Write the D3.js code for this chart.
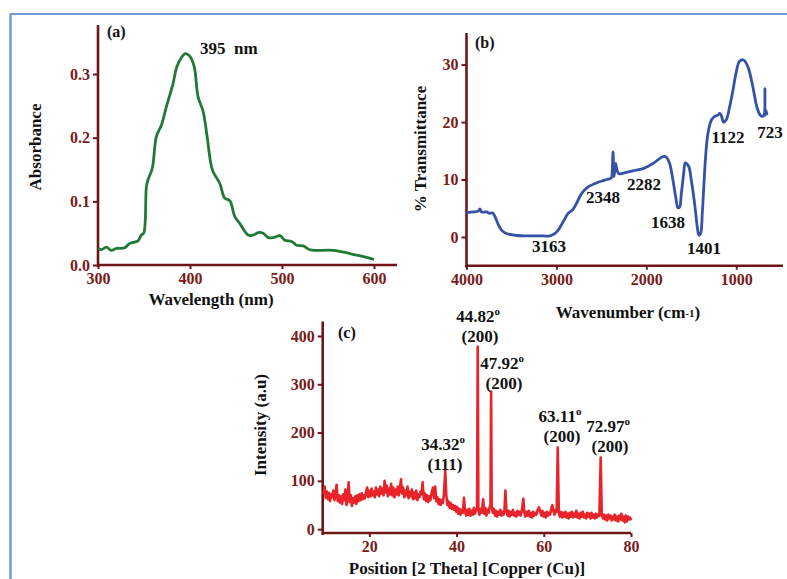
<!DOCTYPE html>
<html><head><meta charset="utf-8">
<script src="https://cdn.jsdelivr.net/npm/d3@7"></script>
<style>
html,body{margin:0;padding:0;background:#fff;}
svg{display:block;}
text{font-family:"Liberation Serif","Times New Roman",serif;font-weight:bold;}
</style></head>
<body>
<svg id="c" width="787" height="579"></svg>
<script>
// ---- Panel (a) UV-Vis ----
const uvWavelength = [300,303.6,309,314.5,320,329,334.5,343.5,347,349.7,352.6,354.4,359,363.5,369,374.4,381.6,385.2,390.7,395,399.7,404.5,408.8,414.3,418.6,424.4,432.4,437.8,443.3,448.7,454.2,463.2,468.7,474.1,479.5,485,490.4,497.7,503,510.4,515.8,523,530.3,537.6,555.7,573.8,588.4,600];
const uvAbsorbance = [0.026,0.024,0.028,0.023,0.026,0.027,0.034,0.038,0.047,0.050,0.123,0.134,0.152,0.202,0.220,0.249,0.285,0.309,0.326,0.332,0.328,0.312,0.264,0.241,0.202,0.149,0.128,0.105,0.101,0.076,0.065,0.047,0.047,0.051,0.050,0.043,0.043,0.046,0.039,0.037,0.031,0.030,0.024,0.023,0.023,0.018,0.013,0.009];
const uvTicksX = [300,400,500,600];
const uvTicksY = [0,0.1,0.2,0.3];

// ---- Panel (b) FTIR ----
const irWavenumber = [4000,3926,3870,3852,3833,3778,3741,3711,3685,3648,3611,3556,3463,3333,3185,3074,3019,2981,2926,2870,2815,2778,2722,2648,2556,2463,2389,2381,2370,2359,2341,2326,2304,2259,2148,2037,1926,1815,1778,1741,1704,1674,1648,1630,1611,1585,1567,1548,1526,1500,1463,1433,1415,1396,1378,1363,1341,1315,1278,1241,1204,1185,1167,1141,1111,1074,1037,1000,963,919,870,815,770,733,704,689,681,678,667,659];
const irTransmittance = [4.2,4.35,4.5,4.9,4.35,4.35,4.1,4.2,3.6,2.2,1.2,0.6,0.3,0.2,0.2,0.2,0.6,1.2,2.6,4.1,4.8,5.8,7.5,8.7,9.4,9.9,10.3,11.0,14.8,10.5,12.8,11.6,11.0,11.1,11.5,11.9,12.8,14.0,13.9,12.8,9.9,7.0,5.1,5.2,7.5,11.0,12.9,12.7,12.2,9.9,5.8,1.7,0.3,0.6,4.1,8.1,13.9,18.0,20.3,21.0,21.2,21.5,21.2,20.0,20.4,22.6,25.5,28.7,30.6,30.8,29.6,26.1,22.6,21.2,21.0,21.3,25.8,21.2,22.0,21.2];
const irTicksX = [4000,3000,2000,1000];
const irTicksY = [0,10,20,30];
const irLabels = ["3163","2348","2282","1638","1401","1122","723"];

// ---- Panel (c) XRD ----
const xrdTheta = [9.5,9.75,10,10.25,10.5,10.75,11,11.25,11.5,11.75,12,12.25,12.5,12.75,13,13.25,13.5,13.75,14,14.25,14.5,14.75,15,15.25,15.5,15.75,16,16.25,16.5,16.75,17,17.25,17.5,17.75,18,18.25,18.5,18.75,19,19.25,19.5,19.75,20,20.25,20.5,20.75,21,21.25,21.5,21.75,22,22.25,22.5,22.75,23,23.25,23.5,23.75,24,24.25,24.5,24.75,25,25.25,25.5,25.75,26,26.25,26.5,26.75,27,27.25,27.5,27.75,28,28.25,28.5,28.75,29,29.25,29.5,29.75,30,30.25,30.5,30.75,31,31.25,31.5,31.75,32,32.2,32.5,32.75,33,33.25,33.5,33.75,34,34.25,34.6,34.85,35.1,35.35,35.6,35.85,36.1,36.35,36.6,36.85,37.1,37.4,37.65,37.9,38.15,38.4,38.65,38.9,39.15,39.4,39.65,39.9,40.15,40.4,40.65,40.9,41.15,41.45,41.7,41.95,42.2,42.45,42.7,42.95,43.2,43.45,43.7,43.95,44.2,44.5,44.7,44.85,45,45.25,45.5,45.8,46.1,46.35,46.6,46.85,47.1,47.35,47.6,47.78,47.92,48.05,48.3,48.55,48.8,49.05,49.3,49.55,49.8,50.05,50.3,50.55,50.8,51,51.2,51.45,51.7,51.95,52.2,52.45,52.7,52.95,53.2,53.45,53.7,53.95,54.2,54.45,54.7,55,55.3,55.55,55.8,56.05,56.3,56.55,56.8,57.05,57.3,57.55,57.8,58.05,58.3,58.6,58.9,59.2,59.45,59.7,59.95,60.2,60.45,60.7,60.95,61.2,61.45,61.7,61.95,62.2,62.45,62.7,62.95,63.2,63.45,63.7,63.95,64.2,64.45,64.7,64.95,65.2,65.45,65.7,65.95,66.2,66.45,66.7,66.95,67.2,67.45,67.7,67.95,68.2,68.45,68.7,68.95,69.2,69.45,69.7,69.95,70.2,70.45,70.7,70.95,71.2,71.45,71.7,71.95,72.2,72.45,72.75,73.05,73.3,73.55,73.8,74.05,74.3,74.55,74.8,75.05,75.3,75.55,75.8,76.05,76.3,76.55,76.8,77.05,77.3,77.55,77.8,78.05,78.3,78.55,78.8,79.05,79.3,79.55,79.8,80];
const xrdIntensity = [72,88,65,78,62,75,58,72,66,80,60,74,92,58,70,55,68,52,72,60,82,50,66,97,56,70,48,64,55,68,52,70,58,72,60,74,62,70,64,78,86,66,80,68,84,70,78,66,86,72,82,68,88,74,84,70,100,76,90,68,84,72,94,70,86,66,82,72,88,70,84,103,74,86,66,80,70,88,64,78,68,82,62,76,64,80,60,72,66,78,72,97,62,74,58,70,56,68,60,74,86,64,88,58,66,52,62,50,60,54,72,121,70,50,58,44,54,42,50,40,48,36,46,32,42,30,40,34,65,36,28,40,30,42,28,38,30,44,32,40,45,378,40,30,42,34,62,32,44,28,40,34,46,50,285,48,34,42,28,38,26,36,30,40,28,36,30,42,80,36,28,38,26,36,30,40,28,34,26,38,30,36,28,40,63,34,26,36,28,38,26,34,24,36,28,34,30,40,45,36,28,38,26,34,24,36,28,34,30,42,50,38,30,40,36,169,34,26,36,24,34,26,36,24,32,22,34,26,36,24,32,26,38,24,32,22,34,26,36,24,30,22,34,26,32,22,34,24,30,22,32,24,30,28,148,30,22,30,20,28,18,30,22,28,18,26,20,30,18,26,16,28,20,32,18,26,14,28,16,26,20,24,18];
const xrdTicksX = [20,40,60,80];
const xrdTicksY = [0,100,200,300,400];
const xrdPeakAngle = ["44.82","47.92","34.32","63.11","72.97"];
const xrdPeakPlane = ["(200)","(200)","(111)","(200)","(200)"];

// ---- styles ----
const AXIS = "#6e1616", TICKTXT = "#7a1a1a";
const svg = d3.select("#c");

// frame
svg.append("line").attr("x1",10).attr("x2",787).attr("y1",14).attr("y2",14).attr("stroke","#6e9ad6").attr("stroke-width",2);
svg.append("line").attr("x1",10.5).attr("x2",10.5).attr("y1",14).attr("y2",579).attr("stroke","#6e9ad6").attr("stroke-width",2.5);

function styleAxis(g){
  g.select(".domain").remove();
  g.selectAll(".tick line").attr("stroke",AXIS).attr("stroke-width",2);
  g.selectAll(".tick text").attr("fill",TICKTXT).attr("font-size",16).attr("font-family","Liberation Serif").attr("font-weight","bold");
}
function axisLines(x0,x1,y0,y1){
  svg.append("line").attr("x1",x0).attr("x2",x0).attr("y1",y0).attr("y2",y1+2).attr("stroke",AXIS).attr("stroke-width",2.6);
  svg.append("line").attr("x1",x0-1).attr("x2",x1).attr("y1",y1).attr("y2",y1).attr("stroke",AXIS).attr("stroke-width",2.6);
}
function txt(x,y,s,size,anchor,rot){
  const t = svg.append("text").attr("x",x).attr("y",y).attr("font-size",size||17).attr("text-anchor",anchor||"middle").attr("fill","#111").text(s);
  if(rot) t.attr("transform",`rotate(-90,${x},${y})`);
  return t;
}

// ---------- (a) ----------
{
  const x = d3.scaleLinear().domain([300,625]).range([98,397]);
  const y = d3.scaleLinear().domain([0,0.377]).range([265,25]);
  axisLines(98,397,25,265);
  svg.append("g").attr("transform","translate(0,265)").call(d3.axisBottom(x).tickValues(uvTicksX).tickSize(4).tickPadding(4).tickFormat(d3.format("d"))).call(styleAxis);
  svg.append("g").attr("transform","translate(98,0)").call(d3.axisLeft(y).tickValues(uvTicksY).tickSize(5).tickPadding(3).tickFormat(d3.format(".1f"))).call(styleAxis);
  const line = d3.line().x((d,i)=>x(uvWavelength[i])).y((d,i)=>y(uvAbsorbance[i])).curve(d3.curveCatmullRom.alpha(0.5));
  svg.append("path").datum(uvAbsorbance).attr("d",line).attr("fill","none").attr("stroke","#1f7a35").attr("stroke-width",2.8).attr("stroke-linejoin","round");
  txt(107,37,"(a)",16,"start");
  txt(200,54,"395  nm",17,"start").attr("xml:space","preserve");
  txt(211,305,"Wavelength (nm)",17);
  txt(41,147,"Absorbance",17,"middle",true);
}

// ---------- (b) ----------
{
  const x = d3.scaleLinear().domain([4000,480]).range([466.5,783]);
  const y = d3.scaleLinear().domain([-5,35.5]).range([265.7,33]);
  axisLines(466.5,783,33,265.7);
  svg.append("g").attr("transform","translate(0,265.7)").call(d3.axisBottom(x).tickValues(irTicksX).tickSize(4).tickPadding(4).tickFormat(d3.format("d"))).call(styleAxis);
  svg.append("g").attr("transform","translate(466.5,0)").call(d3.axisLeft(y).tickValues(irTicksY).tickSize(5).tickPadding(3).tickFormat(d3.format("d"))).call(styleAxis);
  const line = d3.line().x((d,i)=>x(irWavenumber[i])).y((d,i)=>y(irTransmittance[i])).curve(d3.curveCatmullRom.alpha(0.5));
  svg.append("path").datum(irTransmittance).attr("d",line).attr("fill","none").attr("stroke","#3452a6").attr("stroke-width",2.8).attr("stroke-linejoin","round");
  txt(475,48,"(b)",16,"start");
  const pos = [[549,252],[603,203],[644,190],[668,228],[704,254],[728,143],[770,138]];
  irLabels.forEach((s,i)=>txt(pos[i][0],pos[i][1],s,17));
  const t = txt(628,318,"Wavenumber (cm",17);
  t.append("tspan").attr("font-size",11).attr("dy",-1).text("-1");
  t.append("tspan").attr("dy",1).text(")");
  txt(426,149,"% Transmittance",17,"middle",true);
}

// ---------- (c) ----------
{
  const x = d3.scaleLinear().domain([9.3,80]).range([322.7,631]);
  const y = d3.scaleLinear().domain([-8,430]).range([533,321.5]);
  axisLines(322.7,631,321.5,533);
  svg.append("g").attr("transform","translate(0,533)").call(d3.axisBottom(x).tickValues(xrdTicksX).tickSize(4).tickPadding(4).tickFormat(d3.format("d"))).call(styleAxis);
  svg.append("g").attr("transform","translate(322.7,0)").call(d3.axisLeft(y).tickValues(xrdTicksY).tickSize(5).tickPadding(3).tickFormat(d3.format("d"))).call(styleAxis);
  const line = d3.line().x((d,i)=>x(xrdTheta[i])).y((d,i)=>y(xrdIntensity[i]));
  svg.append("path").datum(xrdIntensity).attr("d",line).attr("fill","none").attr("stroke","#e8242a").attr("stroke-width",2.6).attr("stroke-linejoin","round");
  txt(338,338,"(c)",16,"start");
  const pos = [[478,322],[502,369],[443,450],[560,422],[608,432]];
  xrdPeakAngle.forEach((s,i)=>{
    const t = txt(pos[i][0],pos[i][1],s,17);
    t.append("tspan").attr("font-size",11).attr("dy",-7).text("o");
    txt(pos[i][0]+2,pos[i][1]+20,xrdPeakPlane[i],17);
  });
  txt(467,574,"Position [2 Theta] [Copper (Cu)]",17);
  txt(266,425,"Intensity (a.u)",17,"middle",true);
}
</script>
</body></html>
